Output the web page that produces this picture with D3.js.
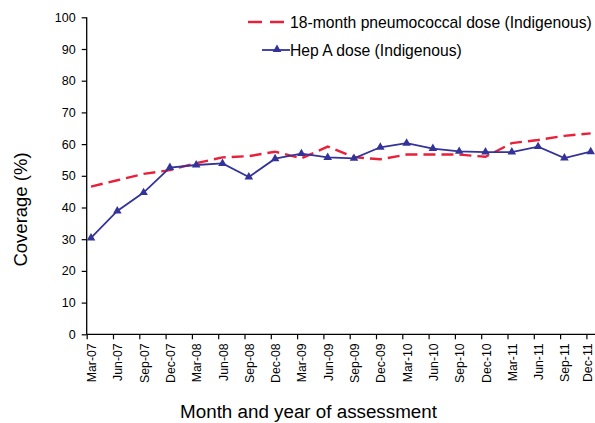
<!DOCTYPE html>
<html>
<head>
<meta charset="utf-8">
<script src="https://cdn.jsdelivr.net/npm/d3@7"></script>
<style>
  html, body { margin: 0; padding: 0; background: #fff; }
  svg { display: block; font-family: "Liberation Sans", Arial, sans-serif; }
</style>
</head>
<body>
<svg id="chart" width="595" height="423"></svg>
<script>
const categories = ["Mar-07","Jun-07","Sep-07","Dec-07","Mar-08","Jun-08","Sep-08","Dec-08","Mar-09","Jun-09",
  "Sep-09","Dec-09","Mar-10","Jun-10","Sep-10","Dec-10","Mar-11","Jun-11","Sep-11","Dec-11"];
const pneumoValues = [46.6, 48.6, 50.6, 51.8, 54.0, 55.8, 56.2, 57.6, 55.5, 59.2,
  55.9, 55.2, 56.7, 56.7, 56.7, 56.0, 60.3, 61.3, 62.6, 63.4];
const hepAValues = [30.4, 38.9, 44.7, 52.6, 53.4, 53.9, 49.6, 55.4, 57.0, 55.8,
  55.5, 59.0, 60.3, 58.6, 57.7, 57.5, 57.5, 59.2, 55.6, 57.6];
const yTicks = [0, 10, 20, 30, 40, 50, 60, 70, 80, 90, 100];
const seriesNames = ["18-month pneumococcal dose (Indigenous)", "Hep A dose (Indigenous)"];

const RED = "#e8203a", BLUE = "#33339a";
const svg = d3.select("#chart");

const x = d3.scalePoint().domain(categories).range([91, 590.7]);
const y = d3.scaleLinear().domain([0, 100]).range([334.3, 17.3]);

// Y axis
const yAxis = svg.append("g").attr("transform", "translate(86.7,0)")
  .call(d3.axisLeft(y).tickValues(yTicks).tickSize(5).tickPadding(6));
yAxis.select(".domain").attr("stroke", "#000").attr("stroke-width", 1.3).attr("d", `M0,${y(100)}V${y(0)}`);
yAxis.selectAll(".tick line").attr("stroke", "#000").attr("stroke-width", 1.2);
yAxis.selectAll("text").attr("font-size", "12.5px").attr("fill", "#000")
  .attr("font-family", "Liberation Sans, Arial, sans-serif");

// X axis
const xAxis = svg.append("g").attr("transform", `translate(0,${y(0)})`)
  .call(d3.axisBottom(x).tickSize(5));
xAxis.select(".domain").attr("stroke", "#000").attr("stroke-width", 1.3).attr("d", "M86.7,0H595");
xAxis.selectAll(".tick line").attr("stroke", "#000").attr("stroke-width", 1.2)
  .attr("x1", -4.3).attr("x2", -4.3);
xAxis.selectAll(".tick text")
  .attr("font-size", "12.3px").attr("fill", "#000")
  .attr("font-family", "Liberation Sans, Arial, sans-serif")
  .attr("text-anchor", "end").attr("dy", null).attr("y", null)
  .attr("transform", (d, i) => `translate(${i === categories.length - 1 ? 0.8 : 4.5},9) rotate(-90)`);

// Pneumococcal dashed line
const line = d3.line().x((d, i) => x(categories[i])).y(d => y(d));
svg.append("path").datum(pneumoValues)
  .attr("fill", "none").attr("stroke", RED).attr("stroke-width", 2.4)
  .attr("stroke-dasharray", "12,6").attr("d", line);

// Hep A line with triangles
svg.append("path").datum(hepAValues)
  .attr("fill", "none").attr("stroke", BLUE).attr("stroke-width", 1.8).attr("d", line);
const tri = d3.symbol().type(d3.symbolTriangle).size(32);
svg.append("g").selectAll("path").data(hepAValues).join("path")
  .attr("d", tri).attr("fill", BLUE)
  .attr("transform", (d, i) => `translate(${x(categories[i])},${y(d)})`);

// Axis titles
svg.append("text").attr("transform", "translate(27,209.5) rotate(-90)")
  .attr("text-anchor", "middle").attr("font-size", "18.5px").attr("fill", "#000").text("Coverage (%)");
svg.append("text").attr("x", 308.5).attr("y", 418)
  .attr("text-anchor", "middle").attr("font-size", "18.8px").attr("fill", "#000").text("Month and year of assessment");

// Legend
const lg = svg.append("g");
lg.append("line").attr("x1", 248).attr("x2", 287).attr("y1", 22).attr("y2", 22)
  .attr("stroke", RED).attr("stroke-width", 2.4).attr("stroke-dasharray", "14,8");
lg.append("text").attr("x", 290).attr("y", 27.5).attr("font-size", "15.7px").attr("fill", "#000").text(seriesNames[0]);
lg.append("line").attr("x1", 262).attr("x2", 290).attr("y1", 50).attr("y2", 50)
  .attr("stroke", BLUE).attr("stroke-width", 1.8);
lg.append("path").attr("d", tri).attr("fill", BLUE).attr("transform", "translate(277,49.5)");
lg.append("text").attr("x", 290).attr("y", 55.5).attr("font-size", "15.7px").attr("fill", "#000").text(seriesNames[1]);
</script>
</body>
</html>
